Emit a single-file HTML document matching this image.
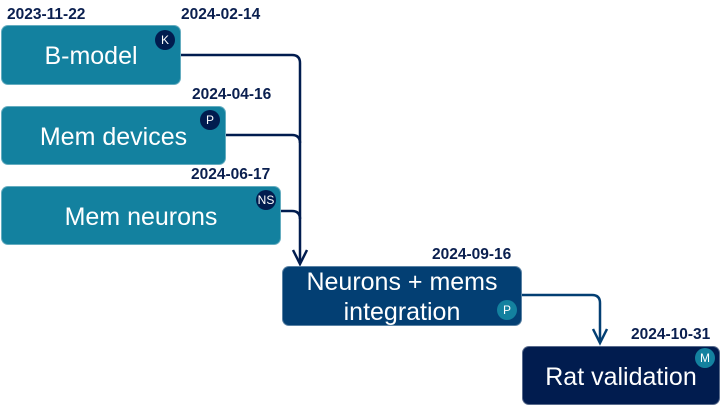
<!DOCTYPE html>
<html><head><style>
body{margin:0;width:720px;height:405px;background:#fff;overflow:hidden;position:relative;font-family:"Liberation Sans",sans-serif}
.b{position:absolute;border-radius:7px;color:#fff;display:flex;align-items:center;justify-content:center;text-align:center;font-size:25px;line-height:30px;box-sizing:border-box;border:1px solid rgba(255,255,255,.35);padding-top:2px}
.t{background:#13819f}.d{background:#033f73}.n{background:#011c4f}
.c{position:absolute;width:20px;height:20px;border-radius:50%;color:#fff;font-size:12px;display:flex;align-items:center;justify-content:center}
.dt{position:absolute;font-weight:bold;font-size:15.5px;color:#0a1f4f}
</style></head><body>
<svg width="720" height="405" style="position:absolute;left:0;top:0">
<g fill="none" stroke="#011c4f" stroke-width="2.5">
<path d="M180 55 H292 Q300 55 300 63 V262"/>
<path d="M225 135 H292 Q300 135 300 143"/>
<path d="M280 211 H292 Q300 211 300 219"/>
</g>
<path d="M293 250 L300 264 L307 250" fill="none" stroke="#011c4f" stroke-width="2.5"/>
<g fill="none" stroke="#033f73" stroke-width="2.5">
<path d="M521 295 H592 Q600 295 600 303 V342"/>
<path d="M593 329 L600 343 L607 329"/>
</g>
</svg>
<div class="dt" style="left:7px;top:6px">2023-11-22</div>
<div class="dt" style="left:181px;top:6px">2024-02-14</div>
<div class="dt" style="left:192px;top:86px">2024-04-16</div>
<div class="dt" style="left:191px;top:166px">2024-06-17</div>
<div class="dt" style="left:432px;top:246px">2024-09-16</div>
<div class="dt" style="left:631px;top:326px">2024-10-31</div>
<div class="b t" style="left:1px;top:25px;width:180px;height:60px">B-model</div>
<div class="b t" style="left:1px;top:106px;width:225px;height:59px">Mem devices</div>
<div class="b t" style="left:1px;top:186px;width:280px;height:59px">Mem neurons</div>
<div class="b d" style="left:282px;top:266px;width:240px;height:60px">Neurons + mems<br>integration</div>
<div class="b n" style="left:522px;top:346px;width:198px;height:59px">Rat validation</div>
<div class="c" style="left:155px;top:30px;background:#011c4f">K</div>
<div class="c" style="left:200px;top:110px;background:#011c4f">P</div>
<div class="c" style="left:256px;top:190px;background:#011c4f">NS</div>
<div class="c" style="left:497px;top:300px;background:#13819f">P</div>
<div class="c" style="left:695px;top:348px;background:#13819f">M</div>
</body></html>
